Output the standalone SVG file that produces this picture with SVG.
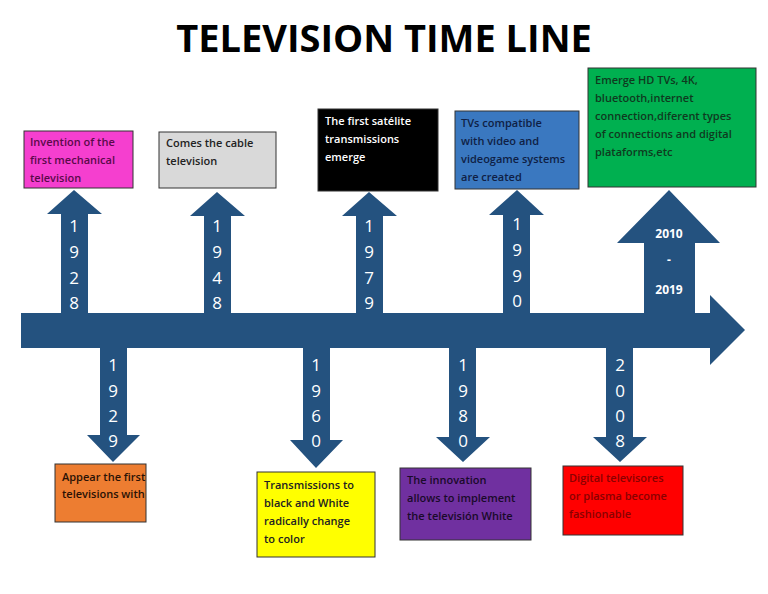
<svg xmlns="http://www.w3.org/2000/svg" width="768" height="594" viewBox="0 0 768 594">
<style>
.ar{fill:#24527f}
.yr{font-family:"Open Sans","DejaVu Sans",sans-serif;font-size:17px;fill:#fff;text-anchor:middle}
.yr2{font-family:"Open Sans","DejaVu Sans",sans-serif;font-size:12px;font-weight:bold;fill:#fff;text-anchor:middle}
.bx{stroke:#333;stroke-width:1}
.t{font-family:"Open Sans","DejaVu Sans",sans-serif;font-size:11px;font-weight:600}
</style>
<rect width="768" height="594" fill="#fff"/>
<text x="384" y="52" font-family="'Open Sans','DejaVu Sans',sans-serif" font-size="38" font-weight="bold" text-anchor="middle" fill="#000">TELEVISION TIME LINE</text>
<g id="connectors">
<polygon class="ar" points="21,313 710,313 710,295 745,330 710,365 710,348 21,348"/>
<polygon class="ar" points="61,313 61,214 47,214 74,190 102,214 88,214 88,313"/>
<polygon class="ar" points="204,313 204,216 190,216 217,192 245,216 231,216 231,313"/>
<polygon class="ar" points="356,313 356,216 342,216 369,192 397,216 383,216 383,313"/>
<polygon class="ar" points="503,313 503,215 489,215 517,190 544,215 530,215 530,313"/>
<polygon class="ar" points="644,313 644,243 617,243 669,190 720,243 695,243 695,313"/>
<polygon class="ar" points="100,348 100,435 87,435 113,462 140,435 127,435 127,348"/>
<polygon class="ar" points="303,348 303,440 290,440 316,468 343,440 330,440 330,348"/>
<polygon class="ar" points="449,348 449,437 436,437 463,462 490,437 476,437 476,348"/>
<polygon class="ar" points="606,348 606,437 593,437 620,462 647,437 633,437 633,348"/>
<g class="yr">
<text x="74" y="232">1</text><text x="74" y="258">9</text><text x="74" y="284">2</text><text x="74" y="309">8</text>
<text x="217" y="232">1</text><text x="217" y="258">9</text><text x="217" y="284">4</text><text x="217" y="309">8</text>
<text x="369" y="232">1</text><text x="369" y="258">9</text><text x="369" y="284">7</text><text x="369" y="309">9</text>
<text x="517" y="230">1</text><text x="517" y="256">9</text><text x="517" y="282">9</text><text x="517" y="307">0</text>
<text x="113" y="371">1</text><text x="113" y="397">9</text><text x="113" y="422">2</text><text x="113" y="447">9</text>
<text x="316" y="371">1</text><text x="316" y="397">9</text><text x="316" y="422">6</text><text x="316" y="447">0</text>
<text x="463" y="371">1</text><text x="463" y="397">9</text><text x="463" y="422">8</text><text x="463" y="447">0</text>
<text x="620" y="371">2</text><text x="620" y="397">0</text><text x="620" y="422">0</text><text x="620" y="447">8</text>
</g>
<g class="yr2"><text x="669" y="238">2010</text><text x="669" y="264">-</text><text x="669" y="294">2019</text></g>
</g>
<g id="n1928"><rect class="bx" x="24" y="131" width="109" height="57" fill="#f53fcf"/>
<text class="t" fill="#5a0a4a"><tspan x="30" y="146">Invention of the</tspan><tspan x="30" y="164">first mechanical</tspan><tspan x="30" y="182">television</tspan></text></g>
<g id="n1948"><rect class="bx" x="159" y="132" width="117" height="56" fill="#d9d9d9"/>
<text class="t" fill="#222"><tspan x="166" y="147">Comes the cable</tspan><tspan x="166" y="165">television</tspan></text></g>
<g id="n1979"><rect class="bx" x="318" y="109" width="120" height="82" fill="#000"/>
<text class="t" fill="#fff"><tspan x="325" y="125">The first satélite</tspan><tspan x="325" y="143">transmissions</tspan><tspan x="325" y="161">emerge</tspan></text></g>
<g id="n1990"><rect class="bx" x="455" y="111" width="124" height="78" fill="#3a78c0"/>
<text class="t" fill="#0f1f45"><tspan x="461" y="127">TVs compatible</tspan><tspan x="461" y="145">with video and</tspan><tspan x="461" y="163">videogame systems</tspan><tspan x="461" y="181">are created</tspan></text></g>
<g id="n2010"><rect class="bx" x="588" y="68" width="168" height="119" fill="#00b050"/>
<text class="t" fill="#0f3a1f"><tspan x="595" y="84">Emerge HD TVs, 4K,</tspan><tspan x="595" y="102">bluetooth,internet</tspan><tspan x="595" y="120">connection,diferent types</tspan><tspan x="595" y="138">of connections and digital</tspan><tspan x="595" y="156">plataforms,etc</tspan></text></g>
<g id="n1929"><rect class="bx" x="55" y="464" width="91" height="58" fill="#ed7d31"/>
<text class="t" fill="#2a1205"><tspan x="62" y="481">Appear the first</tspan><tspan x="62" y="498">televisions with</tspan></text></g>
<g id="n1960"><rect class="bx" x="257" y="472" width="118" height="85" fill="#ffff00"/>
<text class="t" fill="#222"><tspan x="264" y="489">Transmissions to</tspan><tspan x="264" y="507">black and White</tspan><tspan x="264" y="525">radically change</tspan><tspan x="264" y="543">to color</tspan></text></g>
<g id="n1980"><rect class="bx" x="400" y="468" width="131" height="72" fill="#7030a0"/>
<text class="t" fill="#1a0a2a"><tspan x="407" y="484">The innovation</tspan><tspan x="407" y="502">allows to implement</tspan><tspan x="407" y="520">the televisión White</tspan></text></g>
<g id="n2008"><rect class="bx" x="563" y="466" width="120" height="69" fill="#ff0000"/>
<text class="t" fill="#8a0000"><tspan x="569" y="482">Digital televisores</tspan><tspan x="569" y="500">or plasma become</tspan><tspan x="569" y="518">fashionable</tspan></text></g>
</svg>
